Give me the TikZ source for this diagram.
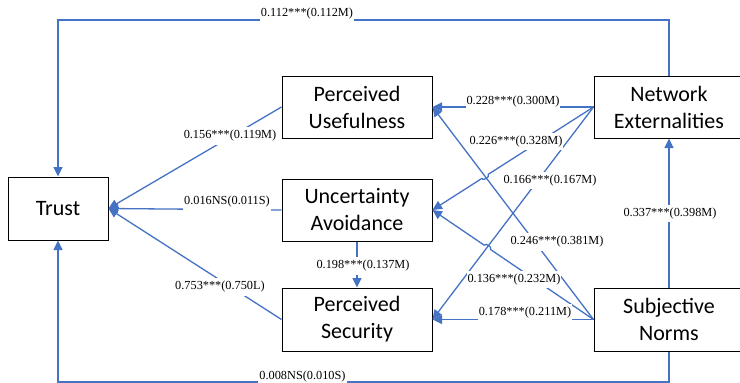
\documentclass[tikz,border=0pt]{standalone}
\usepackage{fontspec}
\setmainfont{Carlito}
\newfontfamily\labfont{Liberation Serif}
\usetikzlibrary{arrows.meta,calc}
\definecolor{lineblue}{HTML}{4472C4}
\begin{document}
\begin{tikzpicture}[x=1pt,y=-1pt,
 box/.style={draw=black,line width=1pt,fill=white,minimum width=150pt,minimum height=62pt,align=center,font=\fontsize{22}{27}\selectfont,inner sep=0pt},
 conn/.style={draw=lineblue,line width=1.3pt,-{Triangle[length=9.5pt,width=9pt]}},
 lbl/.style={fill=white,inner xsep=1pt,inner ysep=3pt,font=\labfont\fontsize{12.3}{14}\selectfont}]
\useasboundingbox (0,0) rectangle (740,383);
\clip (0,0) rectangle (740,383);
\node[box,minimum width=100pt,minimum height=63pt] (trust) at (58,208.5) {Trust};
\node[box] (pu) at (357,107) {Perceived\\Usefulness};
\node[box] (ua) at (357,210) {Uncertainty\\Avoidance};
\node[box,minimum height=63pt] (ps) at (357,319.5) {Perceived\\Security};
\node[box] (ne) at (669,107) {Network\\Externalities};
\node[box,minimum height=63pt] (sn) at (669,319.5) {Subjective\\Norms};
\draw[conn] (pu.west) -- (trust.east);
\draw[conn] (ua.west) -- (trust.east);
\draw[conn] (ps.west) -- (trust.east);
\draw[conn] (ua.south) -- (ps.north);
\draw[conn] (ne.west) -- (pu.east);
\draw[conn] (ne.west) -- ($(ne.west)!0.653!(ua.east)$) to[bend left=90] ($(ne.west)!0.695!(ua.east)$) -- (ua.east);
\draw[conn] (ne.west) -- (ps.east);
\draw[conn] (sn.west) -- (pu.east);
\draw[conn] (sn.west) -- ($(sn.west)!0.639!(ua.east)$) to[bend right=90] ($(sn.west)!0.679!(ua.east)$) -- (ua.east);
\draw[conn] (sn.west) -- (ps.east);
\draw[conn] (sn.north) -- (ne.south);
\coordinate (topr) at (669,20);
\coordinate (botr) at (669,382);
\draw[conn] (ne.north) -- (topr) -| (trust.north);
\draw[conn] (sn.south) -- (botr) -| (trust.south);
\node[lbl] (l1) at (307,14) {0.112***(0.112M)};
\node[lbl] (l2) at (230,136) {0.156***(0.119M)};
\node[lbl] (l3) at (227,202) {0.016NS(0.011S)};
\node[lbl] (l4) at (220,287) {0.753***(0.750L)};
\node[lbl] (l5) at (363,266) {0.198***(0.137M)};
\node[lbl] (l6) at (513,102) {0.228***(0.300M)};
\node[lbl] (l7) at (516,141.5) {0.226***(0.328M)};
\node[lbl] (l8) at (550,180.5) {0.166***(0.167M)};
\node[lbl] (l9) at (557,242) {0.246***(0.381M)};
\node[lbl] (l10) at (514,279.5) {0.136***(0.232M)};
\node[lbl] (l11) at (525,312.5) {0.178***(0.211M)};
\node[lbl] (l12) at (670,213.5) {0.337***(0.398M)};
\node[lbl] (l13) at (302.5,377) {0.008NS(0.010S)};
\end{tikzpicture}
\end{document}
